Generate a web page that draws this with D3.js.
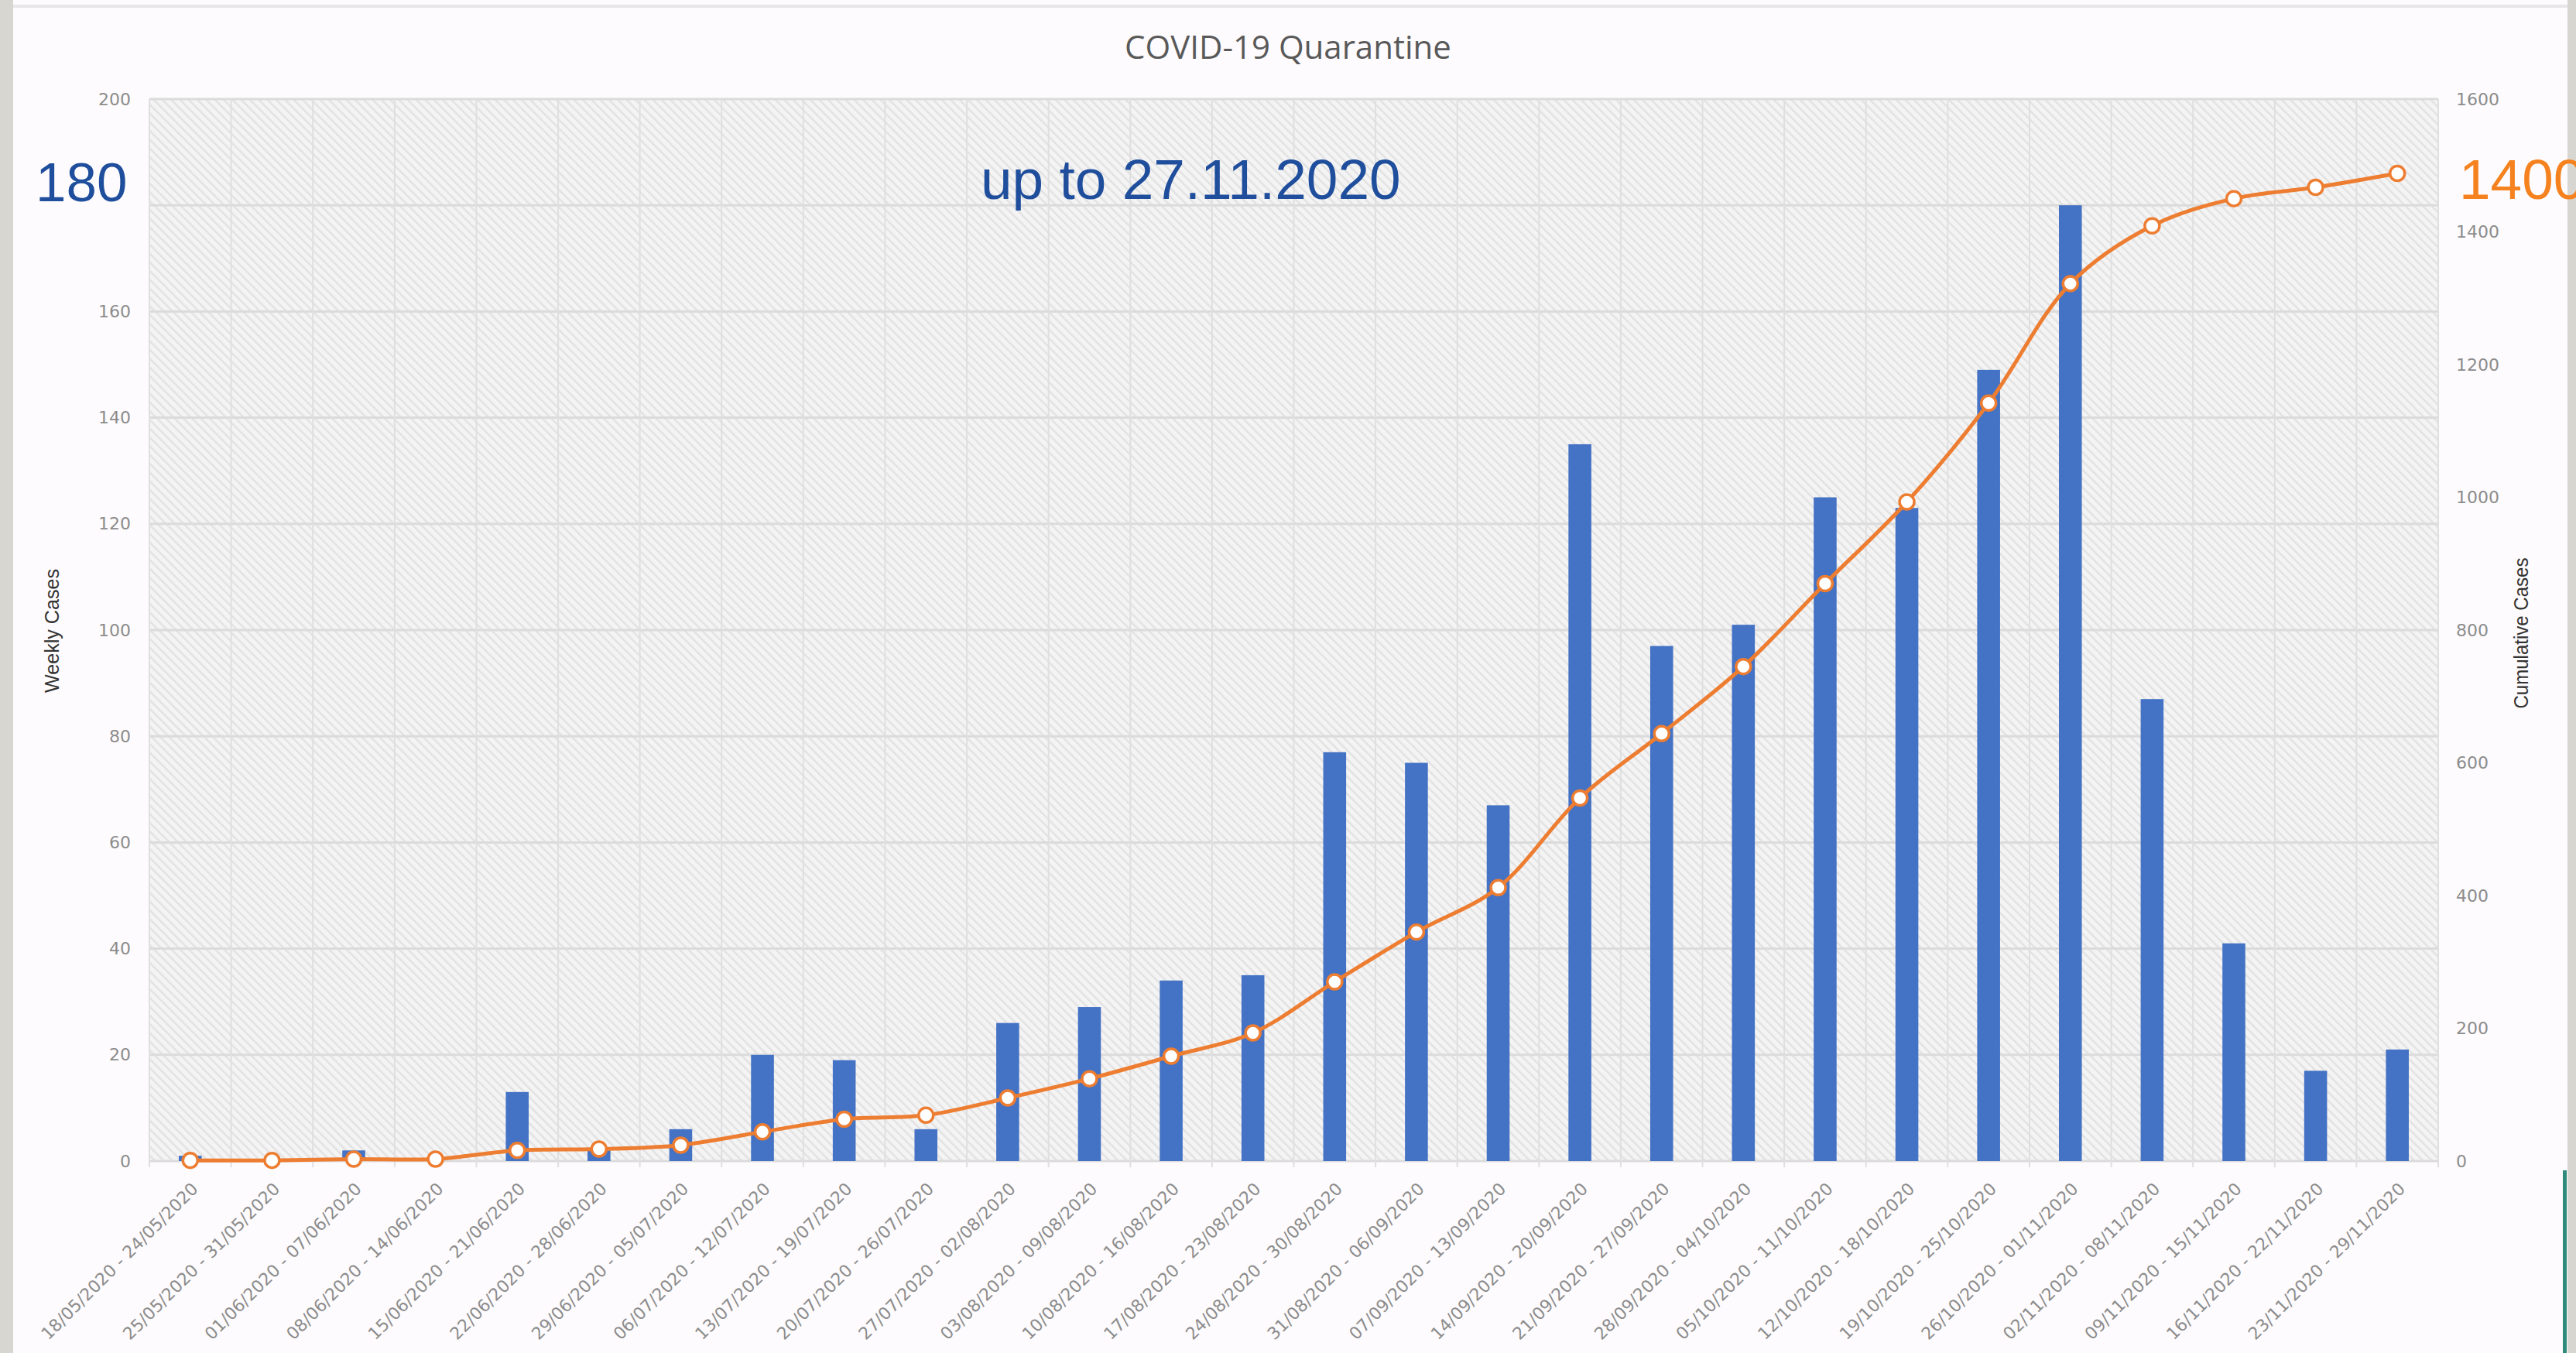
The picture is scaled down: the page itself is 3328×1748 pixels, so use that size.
<!DOCTYPE html>
<html>
<head>
<meta charset="utf-8">
<script src="https://cdn.jsdelivr.net/npm/d3@7"></script>
<style>
  html, body { margin: 0; padding: 0; background: #fdfbfd; overflow: hidden; }
  svg { display: block; }
</style>
</head>
<body>
<div class="plot"></div>
<script>
// Week ranges (categories)
const weeks = [
  "18/05/2020 - 24/05/2020", "25/05/2020 - 31/05/2020", "01/06/2020 - 07/06/2020",
  "08/06/2020 - 14/06/2020", "15/06/2020 - 21/06/2020", "22/06/2020 - 28/06/2020",
  "29/06/2020 - 05/07/2020", "06/07/2020 - 12/07/2020", "13/07/2020 - 19/07/2020",
  "20/07/2020 - 26/07/2020", "27/07/2020 - 02/08/2020", "03/08/2020 - 09/08/2020",
  "10/08/2020 - 16/08/2020", "17/08/2020 - 23/08/2020", "24/08/2020 - 30/08/2020",
  "31/08/2020 - 06/09/2020", "07/09/2020 - 13/09/2020", "14/09/2020 - 20/09/2020",
  "21/09/2020 - 27/09/2020", "28/09/2020 - 04/10/2020", "05/10/2020 - 11/10/2020",
  "12/10/2020 - 18/10/2020", "19/10/2020 - 25/10/2020", "26/10/2020 - 01/11/2020",
  "02/11/2020 - 08/11/2020", "09/11/2020 - 15/11/2020", "16/11/2020 - 22/11/2020",
  "23/11/2020 - 29/11/2020"
];

// Weekly cases (bars, left axis)
const weeklyCases = [1, 0, 2, 0, 13, 2, 6, 20, 19, 6, 26, 29, 34, 35, 77, 75, 67, 135, 97, 101, 125, 123, 149, 180, 87, 41, 17, 21];

// Cumulative cases (line, right axis)
const cumulativeCases = [1, 1, 3, 3, 16, 18, 24, 44, 63, 69, 95, 124, 158, 193, 270, 345, 412, 547, 644, 745, 870, 993, 1142, 1322, 1409, 1450, 1467, 1488];

// gridlines every 20; the 180 label is hidden behind the big "180" note in the original
const leftGrid = [0, 20, 40, 60, 80, 100, 120, 140, 160, 180, 200];
const leftTickLabels = [0, 20, 40, 60, 80, 100, 120, 140, 160, 200];
const rightTicks = [0, 200, 400, 600, 800, 1000, 1200, 1400, 1600];

const W = 3328, H = 1748;
const plot = {left: 193, right: 3150, top: 128, bottom: 1500};

const svg = d3.select(".plot")
    .append("svg")
        .attr("width", W)
        .attr("height", H);

// frame bits around the screenshot
svg.append("rect").attr("x", 0).attr("y", 0).attr("width", W).attr("height", H).attr("fill", "#fdfbfd");
svg.append("rect").attr("x", 0).attr("y", 0).attr("width", 17).attr("height", H).attr("fill", "#d8d6d1");
svg.append("rect").attr("x", 3317).attr("y", 0).attr("width", 11).attr("height", H).attr("fill", "#d8d6d1");
svg.append("rect").attr("x", 17).attr("y", 6).attr("width", 3300).attr("height", 4).attr("fill", "#e8e6e8");
svg.append("rect").attr("x", 3311).attr("y", 1512).attr("width", 5).attr("height", 236).attr("fill", "#2e8b7a");

// Hatched plot background
const defs = svg.append("defs");
const pat = defs.append("pattern")
    .attr("id", "hatch")
    .attr("patternUnits", "userSpaceOnUse")
    .attr("width", 8)
    .attr("height", 8)
    .attr("patternTransform", "rotate(-45)");
pat.append("rect").attr("width", 8).attr("height", 8).attr("fill", "#f5f4f5");
pat.append("rect").attr("width", 2.5).attr("height", 8).attr("fill", "#e3e2e3");

svg.append("rect")
    .attr("x", plot.left)
    .attr("y", plot.top)
    .attr("width", plot.right - plot.left)
    .attr("height", plot.bottom - plot.top)
    .attr("fill", "url(#hatch)");

// Scales
const x = d3.scaleBand()
    .domain(weeks)
    .range([plot.left, plot.right])
    .padding(0);

const yLeft = d3.scaleLinear()
    .domain([0, 200])
    .range([plot.bottom, plot.top]);

const yRight = d3.scaleLinear()
    .domain([0, 1600])
    .range([plot.bottom, plot.top]);

// Gridlines
svg.append("g")
    .selectAll("line")
    .data(leftGrid)
    .enter()
    .append("line")
        .attr("x1", plot.left)
        .attr("x2", plot.right)
        .attr("y1", d => yLeft(d))
        .attr("y2", d => yLeft(d))
        .attr("stroke", "#dcdbdc")
        .attr("stroke-width", 3);

svg.append("g")
    .selectAll("line")
    .data(weeks.concat(["end"]))
    .enter()
    .append("line")
        .attr("x1", (d, i) => i < weeks.length ? x(d) : plot.right)
        .attr("x2", (d, i) => i < weeks.length ? x(d) : plot.right)
        .attr("y1", plot.top)
        .attr("y2", plot.bottom + 8)
        .attr("stroke", "#e0dfe0")
        .attr("stroke-width", 2);

// Left axis
const leftAxis = svg.append("g")
    .attr("transform", "translate(" + (plot.left - 24) + ",0)")
    .call(d3.axisLeft(yLeft).tickValues(leftTickLabels).tickSize(0).tickPadding(0));
leftAxis.select(".domain").remove();
leftAxis.selectAll("text")
    .style("font-family", "DejaVu Sans, Verdana, sans-serif")
    .style("font-size", "22px")
    .style("fill", "#8c8c8c");

// Right axis
const rightAxis = svg.append("g")
    .attr("transform", "translate(" + (plot.right + 23) + ",0)")
    .call(d3.axisRight(yRight).tickValues(rightTicks).tickFormat(d3.format("d")).tickSize(0).tickPadding(0));
rightAxis.select(".domain").remove();
rightAxis.selectAll("text")
    .style("font-family", "DejaVu Sans, Verdana, sans-serif")
    .style("font-size", "22px")
    .style("fill", "#8c8c8c");

// X axis labels
const xAxis = svg.append("g")
    .attr("transform", "translate(0," + plot.bottom + ")")
    .call(d3.axisBottom(x).tickSize(0).tickPadding(0));
xAxis.select(".domain").remove();
xAxis.selectAll("text")
    .attr("text-anchor", "end")
    .attr("dy", "0.35em")
    .attr("transform", "translate(6,32) rotate(-45)")
    .style("font-family", "DejaVu Sans, Verdana, sans-serif")
    .style("font-size", "22px")
    .style("fill", "#8c8c8c");

// Bars
const barW = x.bandwidth() * 0.28;
svg.append("g")
    .selectAll("rect")
    .data(weeklyCases)
    .enter()
    .append("rect")
        .attr("x", (d, i) => x(weeks[i]) + x.bandwidth() / 2 - barW / 2)
        .attr("y", d => yLeft(d))
        .attr("width", barW)
        .attr("height", d => plot.bottom - yLeft(d))
        .attr("fill", "#4472c4");

// Cumulative line
const line = d3.line()
    .x((d, i) => x(weeks[i]) + x.bandwidth() / 2)
    .y(d => yRight(d))
    .curve(d3.curveCatmullRom);

svg.append("path")
    .datum(cumulativeCases)
    .attr("d", line)
    .attr("fill", "none")
    .attr("stroke", "#ed7d31")
    .attr("stroke-width", 5);

svg.append("g")
    .selectAll("circle")
    .data(cumulativeCases)
    .enter()
    .append("circle")
        .attr("cx", (d, i) => x(weeks[i]) + x.bandwidth() / 2)
        .attr("cy", d => yRight(d))
        .attr("r", 9.5)
        .attr("fill", "#ffffff")
        .attr("stroke", "#ed7d31")
        .attr("stroke-width", 3.5);

// Title
svg.append("text")
    .attr("x", 1664)
    .attr("y", 76)
    .attr("text-anchor", "middle")
    .style("font-family", "Open Sans, sans-serif")
    .style("font-size", "42px")
    .style("fill", "#595959")
    .text("COVID-19 Quarantine");

// Axis titles
svg.append("text")
    .attr("transform", "translate(76,815) rotate(-90)")
    .attr("text-anchor", "middle")
    .attr("textLength", 160)
    .attr("lengthAdjust", "spacingAndGlyphs")
    .style("font-family", "Liberation Sans Narrow, Arial Narrow, sans-serif")
    .style("font-size", "26px")
    .style("fill", "#333333")
    .text("Weekly Cases");

svg.append("text")
    .attr("transform", "translate(3266,818) rotate(-90)")
    .attr("text-anchor", "middle")
    .attr("textLength", 195)
    .attr("lengthAdjust", "spacingAndGlyphs")
    .style("font-family", "Liberation Sans Narrow, Arial Narrow, sans-serif")
    .style("font-size", "26px")
    .style("fill", "#333333")
    .text("Cumulative Cases");

// Annotations
svg.append("text")
    .attr("x", 46)
    .attr("y", 260)
    .style("font-family", "Liberation Sans, Arial, sans-serif")
    .style("font-size", "71px")
    .style("fill", "#1f4e9c")
    .text("180");

svg.append("text")
    .attr("x", 1267)
    .attr("y", 257)
    .style("font-family", "Liberation Sans, Arial, sans-serif")
    .style("font-size", "73px")
    .style("fill", "#1f4e9c")
    .text("up to 27.11.2020");

svg.append("text")
    .attr("x", 3177)
    .attr("y", 257)
    .style("font-family", "Liberation Sans, Arial, sans-serif")
    .style("font-size", "73px")
    .style("fill", "#f5821f")
    .text("1400");
</script>
</body>
</html>
